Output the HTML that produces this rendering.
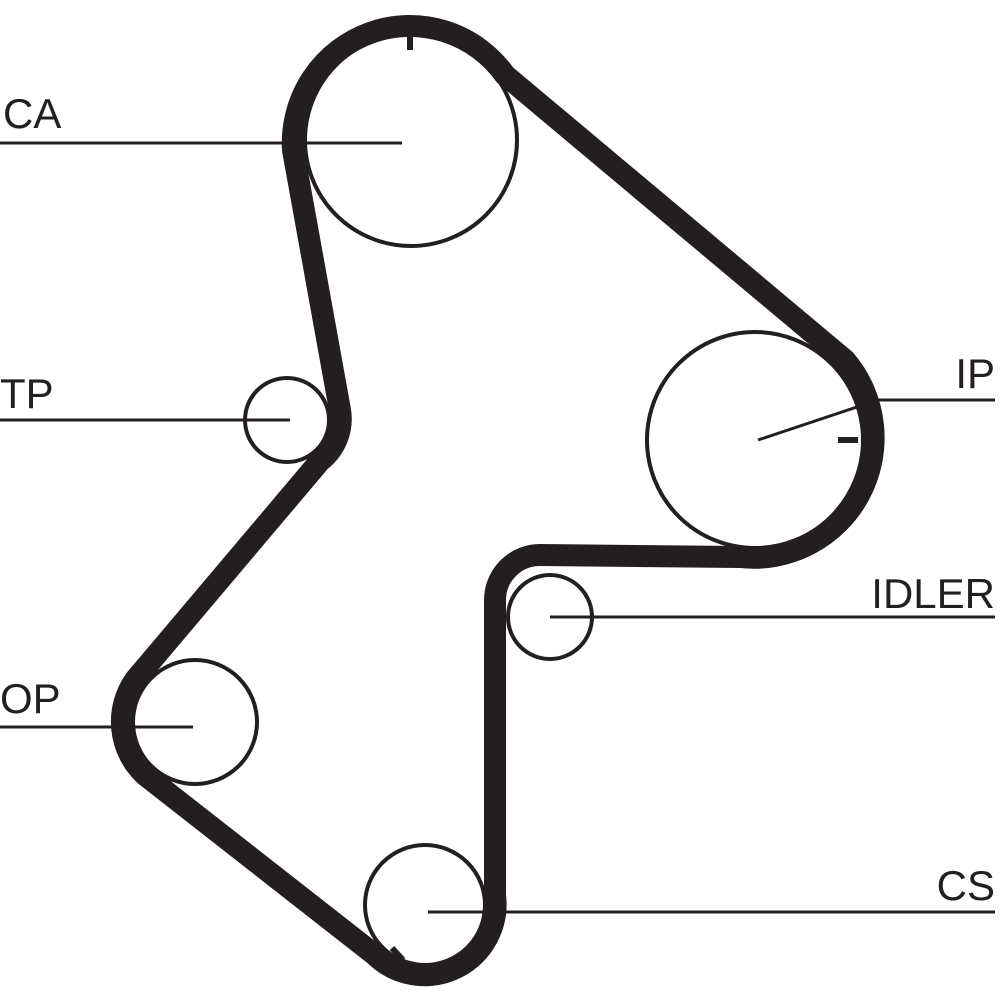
<!DOCTYPE html>
<html><head><meta charset="utf-8"><style>
html,body{margin:0;padding:0;background:#fff;}
svg{display:block;}
text{font-family:"Liberation Sans",sans-serif;font-size:42px;fill:#231f20;}
</style></head><body>
<svg width="1000" height="1000" viewBox="0 0 1000 1000" xmlns="http://www.w3.org/2000/svg">
<g fill="#fff" stroke="#231f20" stroke-width="4">
<circle cx="411" cy="140" r="106"/>
<circle cx="287" cy="420" r="42"/>
<circle cx="755" cy="440" r="108"/>
<circle cx="550" cy="617" r="42"/>
<circle cx="195" cy="722" r="62"/>
<circle cx="425" cy="905" r="60"/>
</g>
<path d="M505,75 A117,117 0 0 0 293,150 L340,410 A53,53 0 0 1 320,461 L135,680 A73,73 0 0 0 145,775 L375,955 A71,71 0 0 0 495,895 L495,600 A45,45 0 0 1 540,555 L740,557 A120,120 0 0 0 845,360 Z" fill="none" stroke="#231f20" stroke-width="22" stroke-linejoin="round"/>
<g stroke="#231f20" stroke-width="3" fill="none">
<line x1="0" y1="143" x2="402" y2="143"/>
<line x1="0" y1="420" x2="290" y2="420"/>
<line x1="0" y1="727" x2="193" y2="727"/>
<line x1="550" y1="617" x2="995" y2="617"/>
<line x1="428" y1="912" x2="995" y2="912"/>
<polyline points="758,440 878,400 995,400"/>
</g>
<g stroke="#231f20" stroke-width="6">
<line x1="410" y1="33" x2="410" y2="50"/>
<line x1="838" y1="440" x2="858" y2="440"/>
<line x1="392" y1="948" x2="403" y2="960"/>
</g>
<text x="3" y="128">CA</text>
<text x="0" y="408">TP</text>
<text x="0" y="713">OP</text>
<text x="995" y="388" text-anchor="end">IP</text>
<text x="995" y="608" text-anchor="end">IDLER</text>
<text x="995" y="900" text-anchor="end">CS</text>
</svg>
</body></html>
